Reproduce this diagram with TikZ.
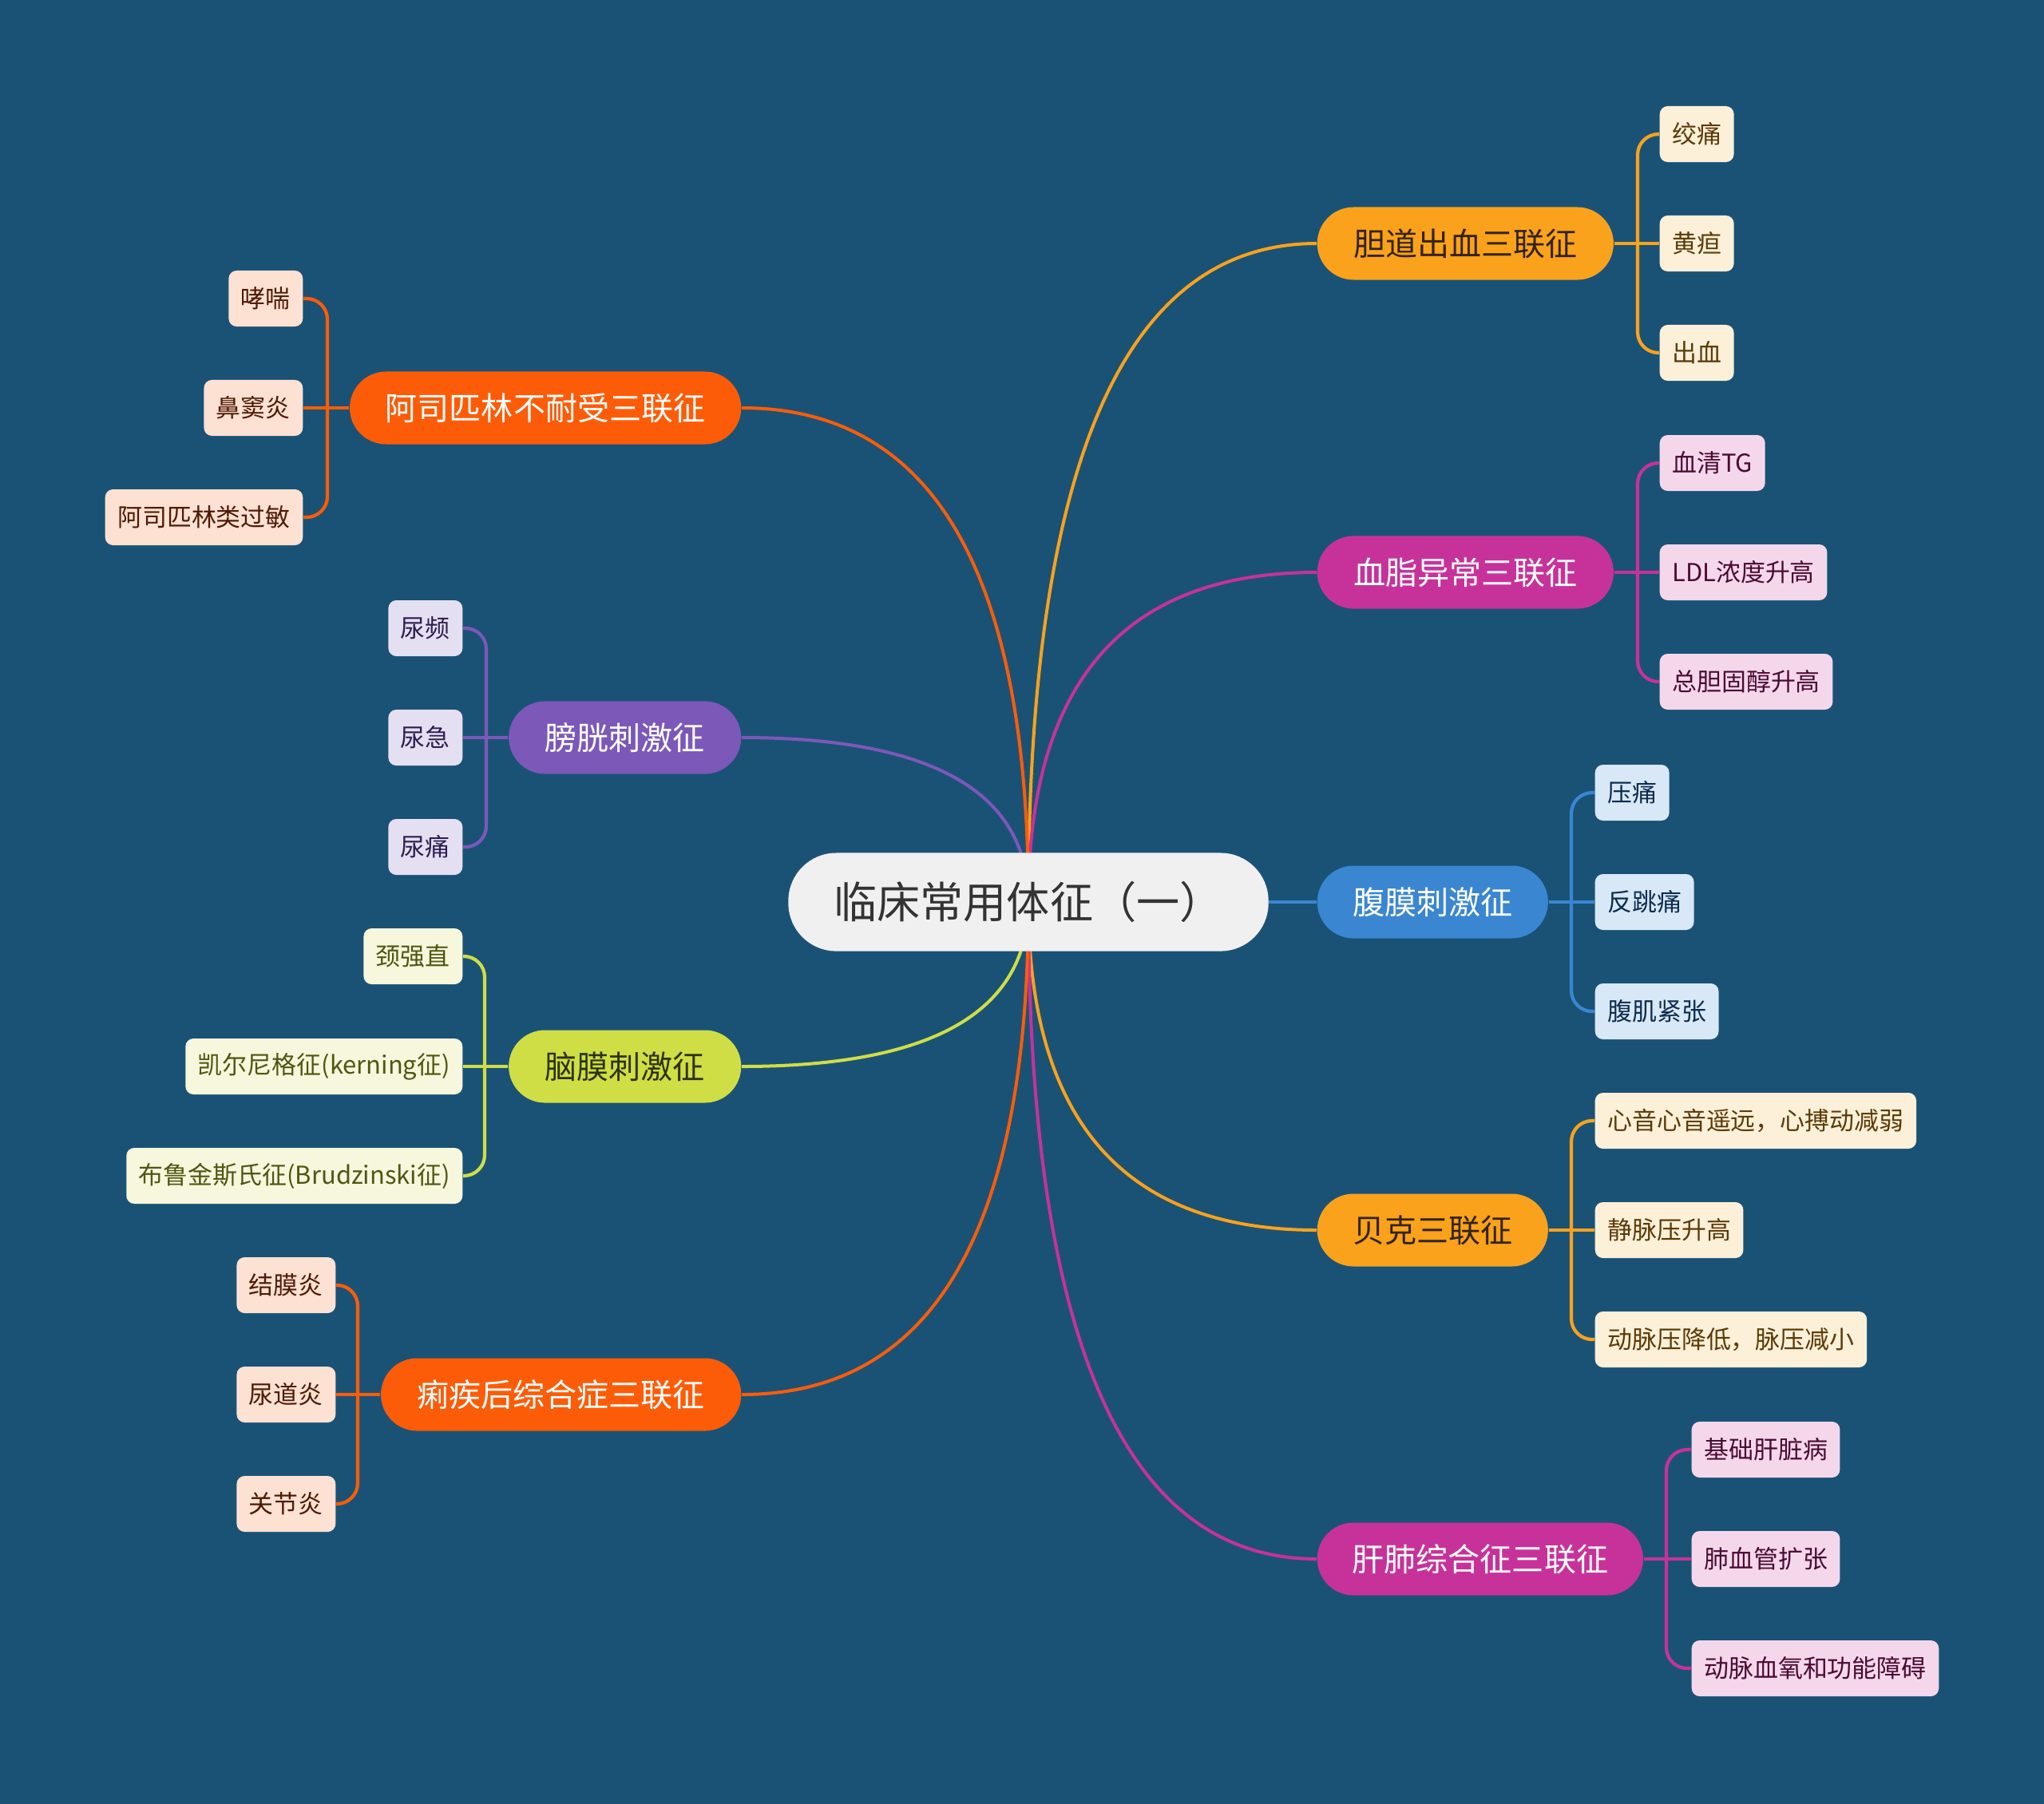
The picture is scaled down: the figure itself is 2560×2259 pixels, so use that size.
\documentclass[tikz,border=0pt]{standalone}
\usepackage{fontspec}
\setmainfont{Noto Sans CJK SC}
\usetikzlibrary{calc}
\pgfdeclarelayer{bgfill}
\pgfdeclarelayer{bg}
\pgfsetlayers{bgfill,bg,main}
\definecolor{bgc}{HTML}{1A5276}
% branch colours
\definecolor{cOr}{HTML}{FAA21B}
\definecolor{cMg}{HTML}{C7329A}
\definecolor{cBl}{HTML}{3A86D1}
\definecolor{cRd}{HTML}{FC5C08}
\definecolor{cPu}{HTML}{7C58B8}
\definecolor{cGr}{HTML}{D0DE45}
% branch text
\definecolor{tOr}{HTML}{33230D}
\definecolor{tGr}{HTML}{2B3300}
% leaf fills
\definecolor{fOr}{HTML}{FDF0D8}
\definecolor{fMg}{HTML}{F5D7EB}
\definecolor{fBl}{HTML}{D8E8F7}
\definecolor{fRd}{HTML}{FDE1D3}
\definecolor{fPu}{HTML}{E5DFF2}
\definecolor{fGr}{HTML}{F6F7DC}
% leaf text
\definecolor{lOr}{HTML}{5C3A08}
\definecolor{lMg}{HTML}{4A0B33}
\definecolor{lBl}{HTML}{0E2C4D}
\definecolor{lRd}{HTML}{4F1A05}
\definecolor{lPu}{HTML}{2C1F4F}
\definecolor{lGr}{HTML}{4E5712}
\definecolor{rootfill}{HTML}{F0F0F0}
\definecolor{roottext}{HTML}{333333}
\begin{document}
\begin{tikzpicture}[x=0.01cm,y=-0.01cm,
  rootbox/.style={fill=rootfill,text=roottext,rounded corners=0.6cm,minimum width=6.01cm,minimum height=1.23cm,inner sep=0,font=\fontsize{15.4pt}{18pt}\selectfont},
  branch/.style={rounded corners=0.455cm,minimum height=0.91cm,inner sep=0,font=\fontsize{11.4pt}{13pt}\selectfont},
  leafbox/.style={rounded corners=0.1cm,minimum height=0.70cm,inner xsep=0.155cm,inner ysep=0,font=\fontsize{8.8pt}{10pt}\selectfont},
  gOr/.style={fill=cOr,text=tOr}, gMg/.style={fill=cMg,text=white}, gBl/.style={fill=cBl,text=white},
  gRd/.style={fill=cRd,text=white}, gPu/.style={fill=cPu,text=white}, gGr/.style={fill=cGr,text=tGr},
  kOr/.style={fill=fOr,text=lOr}, kMg/.style={fill=fMg,text=lMg}, kBl/.style={fill=fBl,text=lBl},
  kRd/.style={fill=fRd,text=lRd}, kPu/.style={fill=fPu,text=lPu}, kGr/.style={fill=fGr,text=lGr},
  conn/.style={line width=0.04cm},
  sub/.style={line width=0.042cm,rounded corners=0.26cm}
]
\useasboundingbox (0,0) rectangle (2560,2259);
\begin{pgfonlayer}{bgfill}
\fill[bgc] (-20,-20) rectangle (2580,2280);
\end{pgfonlayer}

% root
\node[rootbox] (ctr) at (1288,1130) {临床常用体征（一）};

% right branches
\node[branch,gOr,minimum width=3.71cm,anchor=west] (b1) at (1649,305) {胆道出血三联征};
\node[branch,gMg,minimum width=3.71cm,anchor=west] (b2) at (1649,717) {血脂异常三联征};
\node[branch,gBl,minimum width=2.89cm,anchor=west] (b3) at (1649,1130) {腹膜刺激征};
\node[branch,gOr,minimum width=2.89cm,anchor=west] (b4) at (1649,1541) {贝克三联征};
\node[branch,gMg,minimum width=4.08cm,anchor=west] (b5) at (1649,1953) {肝肺综合征三联征};
% left branches
\node[branch,gRd,minimum width=4.90cm,anchor=east] (b6) at (929,511) {阿司匹林不耐受三联征};
\node[branch,gPu,minimum width=2.91cm,anchor=east] (b7) at (929,924) {膀胱刺激征};
\node[branch,gGr,minimum width=2.91cm,anchor=east] (b8) at (929,1336) {脑膜刺激征};
\node[branch,gRd,minimum width=4.51cm,anchor=east] (b9) at (929,1747) {痢疾后综合症三联征};

% leaves right
\node[leafbox,kOr,anchor=west] (b1a) at (2078,168) {绞痛};
\node[leafbox,kOr,anchor=west] (b1b) at (2078,305) {黄疸};
\node[leafbox,kOr,anchor=west] (b1c) at (2078,442) {出血};
\node[leafbox,kMg,anchor=west] (b2a) at (2078,580) {血清TG};
\node[leafbox,kMg,anchor=west] (b2b) at (2078,717) {LDL浓度升高};
\node[leafbox,kMg,anchor=west] (b2c) at (2078,854) {总胆固醇升高};
\node[leafbox,kBl,anchor=west] (b3a) at (1997,993) {压痛};
\node[leafbox,kBl,anchor=west] (b3b) at (1997,1130) {反跳痛};
\node[leafbox,kBl,anchor=west] (b3c) at (1997,1267) {腹肌紧张};
\node[leafbox,kOr,anchor=west] (b4a) at (1997,1404) {心音心音遥远，心搏动减弱};
\node[leafbox,kOr,anchor=west] (b4b) at (1997,1541) {静脉压升高};
\node[leafbox,kOr,anchor=west] (b4c) at (1997,1678) {动脉压降低，脉压减小};
\node[leafbox,kMg,anchor=west] (b5a) at (2118,1816) {基础肝脏病};
\node[leafbox,kMg,anchor=west] (b5b) at (2118,1953) {肺血管扩张};
\node[leafbox,kMg,anchor=west] (b5c) at (2118,2090) {动脉血氧和功能障碍};
% leaves left
\node[leafbox,kRd,anchor=east] (b6a) at (380,374) {哮喘};
\node[leafbox,kRd,anchor=east] (b6b) at (380,511) {鼻窦炎};
\node[leafbox,kRd,anchor=east] (b6c) at (380,648) {阿司匹林类过敏};
\node[leafbox,kPu,anchor=east] (b7a) at (580,787) {尿频};
\node[leafbox,kPu,anchor=east] (b7b) at (580,924) {尿急};
\node[leafbox,kPu,anchor=east] (b7c) at (580,1061) {尿痛};
\node[leafbox,kGr,anchor=east] (b8a) at (580,1198) {颈强直};
\node[leafbox,kGr,anchor=east] (b8b) at (580,1336) {凯尔尼格征(kerning征)};
\node[leafbox,kGr,anchor=east] (b8c) at (580,1473) {布鲁金斯氏征(Brudzinski征)};
\node[leafbox,kRd,anchor=east] (b9a) at (421,1610) {结膜炎};
\node[leafbox,kRd,anchor=east] (b9b) at (421,1747) {尿道炎};
\node[leafbox,kRd,anchor=east] (b9c) at (421,1884) {关节炎};

% junction points
\coordinate (j1) at (2051,305);
\coordinate (j2) at (2051,717);
\coordinate (j3) at (1968,1130);
\coordinate (j4) at (1968,1541);
\coordinate (j5) at (2087,1953);
\coordinate (j6) at (410,511);
\coordinate (j7) at (609,924);
\coordinate (j8) at (607,1336);
\coordinate (j9) at (448,1747);

% corner points for the main curves
\coordinate (q1) at (ctr.center |- b1.west);
\coordinate (q2) at (ctr.center |- b2.west);
\coordinate (q4) at (ctr.center |- b4.west);
\coordinate (q5) at (ctr.center |- b5.west);
\coordinate (q6) at (ctr.center |- b6.east);
\coordinate (q7) at (ctr.center |- b7.east);
\coordinate (q8) at (ctr.center |- b8.east);
\coordinate (q9) at (ctr.center |- b9.east);

\begin{pgfonlayer}{bg}
% main connectors
\draw[conn,cOr] (ctr.center) .. controls ($(ctr.center)!0.667!(q1)$) and ($(b1.west)!0.667!(q1)$) .. (b1.west);
\draw[conn,cMg] (ctr.center) .. controls ($(ctr.center)!0.667!(q2)$) and ($(b2.west)!0.667!(q2)$) .. (b2.west);
\draw[conn,cBl] (ctr.center) -- (b3.west);
\draw[conn,cOr] (ctr.center) .. controls ($(ctr.center)!0.667!(q4)$) and ($(b4.west)!0.667!(q4)$) .. (b4.west);
\draw[conn,cMg] (ctr.center) .. controls ($(ctr.center)!0.667!(q5)$) and ($(b5.west)!0.667!(q5)$) .. (b5.west);
\draw[conn,cRd] (ctr.center) .. controls ($(ctr.center)!0.667!(q6)$) and ($(b6.east)!0.667!(q6)$) .. (b6.east);
\draw[conn,cPu] (ctr.center) .. controls ($(ctr.center)!0.667!(q7)$) and ($(b7.east)!0.667!(q7)$) .. (b7.east);
\draw[conn,cGr] (ctr.center) .. controls ($(ctr.center)!0.667!(q8)$) and ($(b8.east)!0.667!(q8)$) .. (b8.east);
\draw[conn,cRd] (ctr.center) .. controls ($(ctr.center)!0.667!(q9)$) and ($(b9.east)!0.667!(q9)$) .. (b9.east);
% leaf brackets right
\draw[sub,cOr] (b1.east) -- (b1b.west);
\draw[sub,cOr] (b1a.west) -| (j1) |- (b1c.west);
\draw[sub,cMg] (b2.east) -- (b2b.west);
\draw[sub,cMg] (b2a.west) -| (j2) |- (b2c.west);
\draw[sub,cBl] (b3.east) -- (b3b.west);
\draw[sub,cBl] (b3a.west) -| (j3) |- (b3c.west);
\draw[sub,cOr] (b4.east) -- (b4b.west);
\draw[sub,cOr] (b4a.west) -| (j4) |- (b4c.west);
\draw[sub,cMg] (b5.east) -- (b5b.west);
\draw[sub,cMg] (b5a.west) -| (j5) |- (b5c.west);
% leaf brackets left
\draw[sub,cRd] (b6.west) -- (b6b.east);
\draw[sub,cRd] (b6a.east) -| (j6) |- (b6c.east);
\draw[sub,cPu] (b7.west) -- (b7b.east);
\draw[sub,cPu] (b7a.east) -| (j7) |- (b7c.east);
\draw[sub,cGr] (b8.west) -- (b8b.east);
\draw[sub,cGr] (b8a.east) -| (j8) |- (b8c.east);
\draw[sub,cRd] (b9.west) -- (b9b.east);
\draw[sub,cRd] (b9a.east) -| (j9) |- (b9c.east);
\end{pgfonlayer}
\end{tikzpicture}
\end{document}
